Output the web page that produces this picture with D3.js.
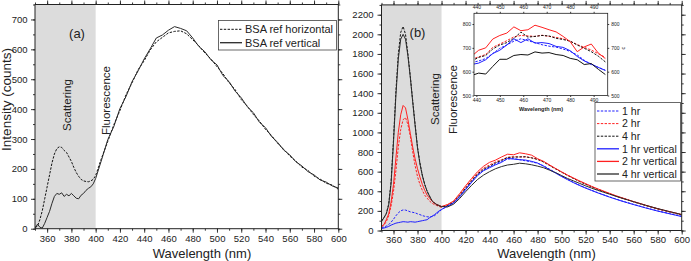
<!DOCTYPE html>
<meta charset="utf-8">
<style>
body { margin: 0; background: #fff; }
svg text { font-family: "Liberation Sans", Arial, sans-serif; fill: #222; }
.axis .domain { display: none; }
.axis line { stroke: #222; stroke-width: 0.9px; }
.axis text { font-size: 9.5px; fill: #222; }
.inset .axis text { font-size: 5px; }
.line { fill: none; stroke-width: 1px; }
</style>
<body>
<script src="https://d3js.org/d3.v7.min.js"></script>
<script>
// wavelength grid (nm), shared by both main panels
const wl = [350,352,354,356,358,360,362,364,366,368,370,372,374,376,378,380,382,384,386,388,390,392,394,396,398,400,
            405,410,415,420,425,430,435,440,445,450,455,460,465,470,475,480,485,490,495,500,
            505,510,515,520,525,530,535,540,545,550,555,560,565,570,575,580,585,590,595,600];

// (a) BSA reference
const bsaHorizontal = [5,8,30,60,100,140,180,220,250,268,274,272,262,255,240,225,205,188,175,165,160,158,157,160,165,178,
  238,292,348,395,448,488,532,562,598,625,640,655,660,662,652,632,612,588,568,542,
  518,488,465,432,410,382,360,332,312,285,266,243,226,206,195,176,166,152,146,132];
const bsaVertical = [0,15,5,2,18,38,58,85,108,118,115,120,108,115,110,118,110,102,100,112,118,128,135,140,150,168,
  232,298,342,402,442,492,528,568,602,638,648,664,676,670,662,638,610,592,565,548,
  512,492,460,438,408,388,356,338,308,289,263,247,224,210,191,180,163,156,143,136];

// (b) time series
const h1 = [30,35,45,60,85,115,150,180,200,210,208,200,190,185,180,170,162,152,145,140,138,142,150,170,192,212,
  250,282,345,420,495,565,615,648,680,705,728,735,722,710,700,685,660,625,590,555,
  522,490,462,435,410,386,364,342,322,302,284,266,249,232,216,200,186,172,158,145];
const h2 = [40,55,90,150,250,400,610,850,1030,1130,1150,1080,960,800,660,550,470,410,360,330,300,280,265,255,245,235,
  262,295,365,440,515,585,635,668,700,722,745,752,750,750,742,725,700,665,630,595,
  562,530,500,473,447,422,398,375,352,332,312,292,274,255,238,220,205,190,175,160];
const h4 = [100,130,175,270,500,930,1420,1800,2020,2080,2000,1800,1570,1320,1080,850,690,565,470,400,350,305,280,262,250,240,
  255,288,355,430,505,575,625,655,690,715,745,748,750,752,740,725,698,662,628,595,
  562,530,500,472,446,420,396,374,352,332,312,292,274,256,238,221,206,190,175,158];
const v1 = [20,25,32,42,55,65,75,80,85,90,88,85,90,88,85,90,95,100,105,110,130,145,160,180,200,215,
  248,280,342,415,490,560,610,640,670,695,735,728,722,718,705,688,655,620,585,550,
  518,487,458,432,408,384,362,340,320,300,282,264,247,230,214,198,184,170,156,142];
const v2 = [40,60,110,170,290,470,740,1000,1180,1275,1250,1130,990,850,730,630,545,470,410,360,330,300,280,265,255,245,
  265,300,375,455,530,600,655,695,718,750,778,772,792,782,768,732,705,668,632,598,
  565,535,505,478,450,425,402,378,356,335,315,295,277,258,240,222,207,192,178,163];
const v4 = [90,130,170,260,480,900,1380,1750,1950,2000,1950,1780,1560,1310,1070,840,680,560,470,400,350,305,280,265,255,245,
  240,268,325,395,460,520,565,600,630,652,668,675,686,680,670,656,640,615,590,560,
  530,505,480,455,432,410,390,370,350,330,312,293,275,257,240,223,208,192,178,162];

// inset (zoomed peak)
const insetWl = [438,441,444,447,450,453,456,459,462,465,468,471,474,477,480,483,486,489,492,495];
const insetH1 = [638,645,655,676,698,712,728,738,730,722,713,707,703,695,685,670,648,630,618,606];
const insetH2 = [652,662,672,702,716,730,746,752,750,748,753,748,744,738,728,714,702,691,675,660];
const insetH4 = [645,660,668,695,712,722,740,766,745,748,752,750,740,735,728,712,698,684,665,641];
const insetV1 = [630,636,650,676,690,712,738,722,738,720,722,718,706,702,688,664,645,632,618,605];
const insetV2 = [665,690,700,737,752,762,788,772,776,795,786,776,767,748,726,684,704,716,678,655];
const insetV4 = [584,594,590,622,652,652,668,672,670,683,678,680,672,668,656,650,630,634,610,588];

const xMajor = d3.range(360, 601, 20), xMinor = d3.range(350, 601, 10);

const BLUE = "#1f1fff", RED = "#ff2020", BLACK = "#111", GREY = "#2a2a2a";
const DASH = "2.4,1.4";

const svg = d3.select("body").append("svg").attr("width", 691).attr("height", 261);

function axes(g, x, y, xMaj, xMin, yMaj, yMin, big, small, pad) {
  const x0 = x.range()[0], x1 = x.range()[1], y0 = y.range()[0], y1 = y.range()[1];
  g.append("g").attr("class", "axis").attr("transform", `translate(0,${y0})`)
    .call(d3.axisBottom(x).tickValues(xMin).tickSize(small).tickFormat(""));
  g.append("g").attr("class", "axis").attr("transform", `translate(0,${y0})`)
    .call(d3.axisBottom(x).tickValues(xMaj).tickSize(big).tickPadding(pad[0]).tickFormat(d3.format("d")));
  g.append("g").attr("class", "axis").attr("transform", `translate(0,${y1})`)
    .call(d3.axisTop(x).tickValues(xMin).tickSize(small).tickFormat(""));
  g.append("g").attr("class", "axis").attr("transform", `translate(0,${y1})`)
    .call(d3.axisTop(x).tickValues(xMaj).tickSize(big).tickFormat(""));
  g.append("g").attr("class", "axis").attr("transform", `translate(${x0},0)`)
    .call(d3.axisLeft(y).tickValues(yMin).tickSize(small).tickFormat(""));
  g.append("g").attr("class", "axis").attr("transform", `translate(${x0},0)`)
    .call(d3.axisLeft(y).tickValues(yMaj).tickSize(big).tickPadding(pad[1]).tickFormat(d3.format("d")));
  g.append("g").attr("class", "axis").attr("transform", `translate(${x1},0)`)
    .call(d3.axisRight(y).tickValues(yMin).tickSize(small).tickFormat(""));
  g.append("g").attr("class", "axis").attr("transform", `translate(${x1},0)`)
    .call(d3.axisRight(y).tickValues(yMaj).tickSize(big).tickFormat(""));
  g.append("rect").attr("x", x0).attr("y", y1).attr("width", x1 - x0).attr("height", y0 - y1)
    .attr("fill", "none").attr("stroke", "#222").attr("stroke-width", 1);
}

function drawLines(g, x, y, xs, series, id) {
  const [x0, x1] = x.range(), [y0, y1] = y.range();
  svg.append("clipPath").attr("id", id).append("rect")
    .attr("x", x0).attr("y", y1).attr("width", x1 - x0).attr("height", y0 - y1);
  const line = d3.line().x((d, i) => x(xs[i])).y(d => y(d));
  g.append("g").attr("clip-path", `url(#${id})`)
    .selectAll("path").data(series).join("path")
      .attr("class", "line")
      .attr("d", d => line(d.values))
      .attr("stroke", d => d.color)
      .attr("stroke-width", d => d.width || 1)
      .attr("stroke-dasharray", d => d.dash ? DASH : null);
}

function legend(g, series, box, x0, y0, step, fs) {
  g.append("rect").attr("x", box[0]).attr("y", box[1]).attr("width", box[2]).attr("height", box[3])
    .attr("fill", "#fff").attr("stroke", "#444").attr("stroke-width", 0.8);
  const e = g.selectAll("g.leg").data(series).join("g").attr("class", "leg")
    .attr("transform", (d, i) => `translate(${x0},${y0 + i * step})`);
  e.append("line").attr("x1", 0).attr("x2", 22).attr("stroke", d => d.color)
    .attr("stroke-width", d => d.dash ? 1 : 1.3).attr("stroke-dasharray", d => d.dash ? DASH : null);
  e.append("text").attr("x", 25).attr("dy", "0.35em").style("font-size", fs + "px").text(d => d.name);
}

function label(g, txt, cx, cy, size, rot) {
  g.append("text").attr("transform", `translate(${cx},${cy})` + (rot ? " rotate(-90)" : ""))
    .attr("text-anchor", "middle").attr("dy", "0.35em").style("font-size", size + "px").text(txt);
}

// ---------- panel (a)
{
  const g = svg.append("g");
  const x = d3.scaleLinear().domain([350, 600]).range([35, 338.3]);
  const y = d3.scaleLinear().domain([0, 750]).range([228.7, 4.5]);
  g.append("rect").attr("x", x(350)).attr("y", y(750)).attr("width", x(400) - x(350))
    .attr("height", y(0) - y(750)).attr("fill", "#dcdcdc");
  const series = [
    {name: "BSA ref horizontal", values: bsaHorizontal, color: BLACK, dash: true},
    {name: "BSA ref vertical", values: bsaVertical, color: GREY}
  ];
  drawLines(g, x, y, wl, series, "clipA");
  axes(g, x, y, xMajor, xMinor, d3.range(0, 701, 100), d3.range(0, 751, 50), 4, 2, [2.5, 3.5]);
  legend(g, series, [218.5, 20.5, 118, 29.5], 220, 29.3, 13.4, 11);
  label(g, "(a)", 77, 33, 13);
  label(g, "Scattering", 66.5, 105, 11.5, true);
  label(g, "Fluorescence", 106, 100.5, 11.5, true);
  label(g, "Wavelength (nm)", 202, 253, 13);
  label(g, "Intensity (counts)", 6, 99.5, 13.5, true);
}

// ---------- panel (b)
{
  const g = svg.append("g");
  const x = d3.scaleLinear().domain([350, 600]).range([381.5, 681.7]);
  const y = d3.scaleLinear().domain([0, 2300]).range([230.5, 4.9]);
  g.append("rect").attr("x", x(350)).attr("y", y(2300)).attr("width", x(400) - x(350))
    .attr("height", y(0) - y(2300)).attr("fill", "#dcdcdc");
  const series = [
    {name: "1 hr", values: h1, color: BLUE, dash: true},
    {name: "2 hr", values: h2, color: RED, dash: true},
    {name: "4 hr", values: h4, color: BLACK, dash: true},
    {name: "1 hr vertical", values: v1, color: BLUE},
    {name: "2 hr vertical", values: v2, color: RED},
    {name: "4 hr vertical", values: v4, color: GREY}
  ];
  drawLines(g, x, y, wl, series, "clipB");
  axes(g, x, y, xMajor, xMinor, d3.range(0, 2201, 200), d3.range(0, 2301, 100), 4, 2, [1.5, 4]);
  legend(g, series, [595, 102.5, 85.5, 78.5], 597, 111, 12.6, 10.6);
  label(g, "(b)", 417.5, 32, 13);
  label(g, "Scattering", 435, 99, 11.5, true);
  label(g, "Fluorescence", 453.3, 99.5, 11.5, true);
  label(g, "Wavelength (nm)", 546.5, 253, 13);

  // inset
  const ig = svg.append("g").attr("class", "inset");
  const ix = d3.scaleLinear().domain([439, 496]).range([474, 607.7]);
  const iy = d3.scaleLinear().domain([500, 845]).range([95.5, 13.3]);
  ig.append("rect").attr("x", 474).attr("y", 13.3).attr("width", 607.7 - 474).attr("height", 95.5 - 13.3)
    .attr("fill", "#fff");
  const iseries = [
    {values: insetH1, color: BLUE, dash: true, width: 1.3},
    {values: insetH2, color: RED, dash: true, width: 1.3},
    {values: insetH4, color: BLACK, dash: true, width: 1.3},
    {values: insetV1, color: BLUE, width: 1.4},
    {values: insetV2, color: RED, width: 1.4},
    {values: insetV4, color: BLACK, width: 1.4}
  ];
  drawLines(ig, ix, iy, insetWl, iseries, "clipI");
  const ixt = d3.range(440, 491, 10), iyt = d3.range(500, 801, 100);
  ig.append("g").attr("class", "axis").attr("transform", "translate(0,95.5)")
    .call(d3.axisBottom(ix).tickValues(ixt).tickSize(1.5).tickPadding(1).tickFormat(d3.format("d")));
  ig.append("g").attr("class", "axis").attr("transform", "translate(0,13.3)")
    .call(d3.axisTop(ix).tickValues(ixt).tickSize(1.5).tickPadding(2.5).tickFormat(d3.format("d")));
  ig.append("g").attr("class", "axis").attr("transform", "translate(474,0)")
    .call(d3.axisLeft(iy).tickValues(iyt).tickSize(1.5).tickPadding(1.5).tickFormat(d3.format("d")));
  ig.append("g").attr("class", "axis").attr("transform", "translate(607.7,0)")
    .call(d3.axisRight(iy).tickValues(iyt).tickSize(1.5).tickPadding(2).tickFormat(d3.format("d")));
  ig.append("rect").attr("x", 474).attr("y", 13.3).attr("width", 607.7 - 474).attr("height", 95.5 - 13.3)
    .attr("fill", "none").attr("stroke", "#222").attr("stroke-width", 0.8);
  ig.append("text").attr("x", 541).attr("y", 109).attr("dy", "0.35em").attr("text-anchor", "middle")
    .style("font-size", "5.5px").style("font-weight", "bold").text("Wavelength (nm)");
  ig.append("text").attr("transform", "translate(623,48) rotate(-90)").attr("text-anchor", "middle")
    .attr("dy", "0.35em").style("font-size", "5.5px").text("c");
}
</script>
</body>
